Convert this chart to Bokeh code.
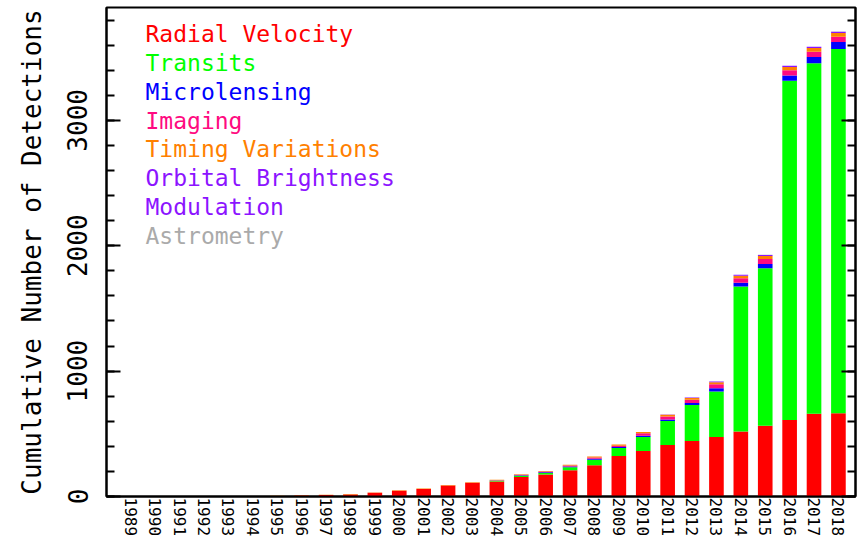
from bokeh.plotting import figure
from bokeh.models import LinearAxis, FixedTicker, ColumnDataSource
from bokeh.embed import file_html
from bokeh.resources import INLINE
from bokeh.core.properties import value

years = list(range(1989, 2019))
radial_velocity = [1, 1, 1, 1, 1, 1, 2, 7, 11, 16, 29, 45, 59, 87, 109, 119, 156, 175, 209, 249,
                   323, 363, 410, 442, 474, 519, 564, 611, 660, 664]
transits = [0, 0, 0, 0, 0, 0, 0, 0, 0, 0, 0, 0, 0, 1, 1, 6, 9, 13, 24, 45,
            63, 111, 193, 288, 363, 1156, 1257, 2704, 2795, 2905]
microlensing = [0, 0, 0, 0, 0, 0, 0, 0, 0, 0, 0, 0, 0, 0, 0, 2, 4, 5, 7, 8,
                8, 10, 11, 16, 26, 30, 33, 42, 50, 55]
imaging = [0, 0, 0, 0, 0, 0, 0, 0, 0, 0, 0, 0, 0, 0, 0, 3, 4, 6, 8, 10,
           11, 20, 24, 26, 32, 35, 40, 43, 43, 43]
timing_variations = [0, 0, 0, 2, 2, 3, 3, 3, 3, 3, 3, 4, 4, 4, 4, 4, 4, 4, 5, 8,
                     10, 10, 13, 13, 16, 20, 24, 25, 28, 30]
orbital_brightness_modulation = [0, 0, 0, 0, 0, 0, 0, 0, 0, 0, 0, 0, 0, 0, 0, 0, 0, 0, 0, 0,
                                 0, 0, 3, 4, 6, 8, 9, 10, 10, 10]
astrometry = [0, 0, 0, 0, 0, 0, 0, 0, 0, 0, 0, 0, 0, 0, 0, 0, 0, 0, 0, 0,
              0, 0, 0, 0, 1, 1, 1, 1, 1, 1]

method_keys = ["rv", "tr", "ml", "im", "tv", "obm", "as"]
method_colors = ["#FF0000", "#00FF00", "#0000FF", "#FF0A80", "#FF8000", "#8C14FF", "#AAAAAA"]
legend_lines = ["Radial Velocity", "Transits", "Microlensing", "Imaging",
                "Timing Variations", "Orbital Brightness", "Modulation", "Astrometry"]
legend_colors = ["#FF0000", "#00FF00", "#0000FF", "#FF0A80", "#FF8000", "#8C14FF", "#8C14FF", "#AAAAAA"]
y_ticks = [0, 1000, 2000, 3000]
y_label = "Cumulative Number of Detections"

FONT = "DejaVu Sans Mono"

W, H = 857, 539
BL, BR, BT, BB = 106, 2, 7, 41
X0, X1 = 1988, 2018.7
Y0, Y1 = 0, 3900

src = ColumnDataSource(dict(year=years, rv=radial_velocity, tr=transits, ml=microlensing,
                            im=imaging, tv=timing_variations, obm=orbital_brightness_modulation,
                            **{"as": astrometry}))

p = figure(width=W, height=H, x_range=(X0, X1), y_range=(Y0, Y1),
           output_backend="svg", toolbar_location=None,
           min_border_left=BL, min_border_right=BR, min_border_top=BT, min_border_bottom=BB)
p.background_fill_color = "white"
p.border_fill_color = "white"
p.grid.visible = False
p.outline_line_color = "black"
p.outline_line_width = 2

p.vbar_stack(method_keys, x="year", width=0.6, source=src,
             fill_color=method_colors, line_color=None)

# x axis
xa = p.xaxis[0]
xa.ticker = FixedTicker(ticks=years)
xa.major_label_overrides = {y: str(y) for y in years}
xa.major_label_orientation = "vertical"
xa.major_tick_in = 0
xa.major_tick_out = 0
xa.minor_tick_in = 0
xa.minor_tick_out = 0
xa.axis_line_width = 2
xa.major_label_standoff = 1
xa.major_label_text_font = FONT
xa.major_label_text_font_size = "16px"
xa.major_label_text_color = "black"

# y axis
ya = p.yaxis[0]
ya.ticker = FixedTicker(ticks=y_ticks, minor_ticks=list(range(0, 3901, 200)))
ya.major_label_orientation = "vertical"
ya.major_tick_in = 14
ya.major_tick_out = 0
ya.minor_tick_in = 8
ya.minor_tick_out = 0
ya.major_tick_line_width = 2
ya.minor_tick_line_width = 2
ya.axis_line_width = 2
ya.major_label_standoff = 19
ya.major_label_text_font = FONT
ya.major_label_text_font_size = "26px"
ya.major_label_text_color = "black"
ya.axis_label = y_label
ya.axis_label_text_font = FONT
ya.axis_label_text_font_size = "26px"
ya.axis_label_text_font_style = "normal"
ya.axis_label_text_color = "black"
ya.axis_label_standoff = 18

ra = LinearAxis(ticker=FixedTicker(ticks=y_ticks, minor_ticks=list(range(0, 3901, 200))))
ra.major_label_overrides = {t: "" for t in y_ticks}
ra.major_tick_in = 14
ra.major_tick_out = 0
ra.minor_tick_in = 8
ra.minor_tick_out = 0
ra.major_tick_line_width = 2
ra.minor_tick_line_width = 2
ra.axis_line_width = 2
ra.major_label_standoff = 0
p.add_layout(ra, "right")

# legend text (placed in data units derived from the frame geometry)
frame_w = W - BL - BR
frame_h = H - BT - BB
px_x = frame_w / (X1 - X0)
px_y = frame_h / (Y1 - Y0)
lx = X0 + 39 / px_x
ly = [Y0 + (frame_h - (33.4 - BT + 29.04 * i)) / px_y for i in range(len(legend_lines))]
lsrc = ColumnDataSource(dict(x=[lx] * len(legend_lines), y=ly, t=legend_lines, c=legend_colors))
p.text(x="x", y="y", text="t", text_color="c", source=lsrc,
       text_font=value(FONT), text_font_size=value("23px"),
       text_align="left", text_baseline="middle")

open("out.html", "w").write(file_html(p, INLINE))
